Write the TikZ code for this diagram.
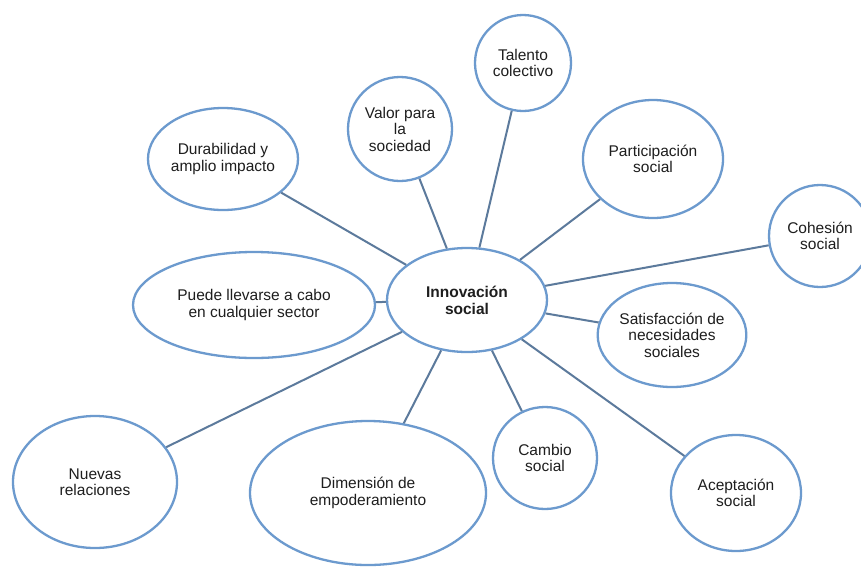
\documentclass[tikz,border=0pt]{standalone}
\usepackage{fontspec}
\setmainfont{Liberation Sans}
\usetikzlibrary{shapes.geometric}
\definecolor{ringblue}{RGB}{108,154,206}
\definecolor{linkgray}{RGB}{92,122,156}
\definecolor{txt}{RGB}{30,30,30}
\tikzset{
  bubble/.style={ellipse, draw=ringblue, line width=2.3pt, fill=white, inner sep=0pt,
    align=center, text=txt, font=\fontsize{15.5}{16.5}\selectfont},
  link/.style={draw=linkgray, line width=2pt}
}
\begin{document}
\begin{tikzpicture}[x=1pt,y=-1pt]
\useasboundingbox (0,0) rectangle (861,568);
\clip (0,0) rectangle (861,568);
\fill[white] (0,0) rectangle (861,568);
\node[bubble, minimum width=160pt, minimum height=104pt, font=\fontsize{15.5}{17}\selectfont\bfseries] (c) at (467,300) {Innovación\\social};
\node[bubble, minimum width=96pt, minimum height=96pt] (tal) at (523,63) {Talento\\colectivo};
\node[bubble, minimum width=104pt, minimum height=104pt] (val) at (400,129) {Valor para\\la\\sociedad};
\node[bubble, minimum width=150pt, minimum height=102pt] (dur) at (223,159) {Durabilidad y\\amplio impacto};
\node[bubble, minimum width=140pt, minimum height=118pt] (par) at (653,159) {Participación\\social};
\node[bubble, minimum width=102pt, minimum height=102pt] (coh) at (820,236) {Cohesión\\social};
\node[bubble, minimum width=242pt, minimum height=106pt] (pue) at (254,305) {Puede llevarse a cabo\\en cualquier sector};
\node[bubble, minimum width=136pt, minimum height=104pt] (sat) at (672,335) {Satisfacción de\\necesidades\\sociales};
\node[bubble, minimum width=164pt, minimum height=132pt] (nue) at (95,482) {Nuevas\\relaciones};
\node[bubble, minimum width=236pt, minimum height=144pt] (dim) at (368,493) {Dimensión de\\empoderamiento};
\node[bubble, minimum width=104pt, minimum height=102pt] (cam) at (545,458) {Cambio\\social};
\node[bubble, minimum width=130pt, minimum height=116pt] (ace) at (736,493) {Aceptación\\social};
\foreach \n in {tal,val,dur,par,coh,pue,sat,nue,dim,cam,ace}{
  \draw[link] (c) -- (\n);
}
\end{tikzpicture}
\end{document}
